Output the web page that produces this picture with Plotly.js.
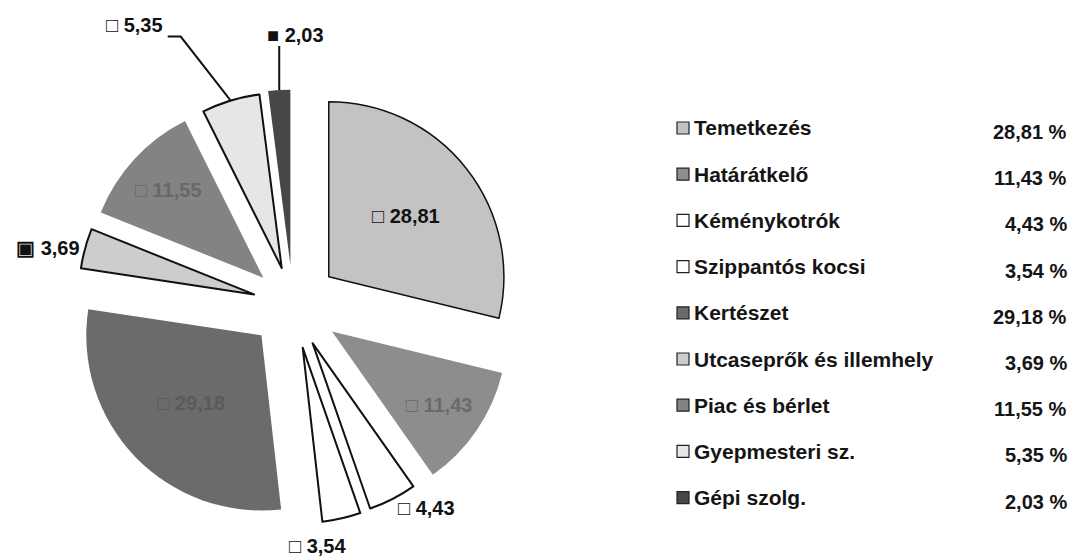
<!DOCTYPE html>
<html>
<head>
<meta charset="utf-8">
<script src="https://cdn.plot.ly/plotly-3.0.1.min.js"></script>
<style>html,body{margin:0;padding:0;background:#fff;}#chart{width:1085px;height:560px;}</style>
</head>
<body>
<div id="chart"></div>
<script>
const categories = ["Temetkezés","Határátkelő","Kéménykotrók","Szippantós kocsi","Kertészet","Utcaseprők és illemhely","Piac és bérlet","Gyepmesteri sz.","Gépi szolg."];
const values = [28.81, 11.43, 4.43, 3.54, 29.18, 3.69, 11.55, 5.35, 2.03];
const sliceColors = ["#c3c3c3","#8d8d8d","#ffffff","#ffffff","#6b6b6b","#cdcdcd","#838383","#e6e6e6","#474747"];
const outlineWidths = [1.5,0,2,2,0,2,0,2,0];
const pulls = [0.26,0.27,0.245,0.25,0.25,0.23,0.23,0.22,0.23];
// 'inside' / 'outside' are drawn by the pie itself; 'leader' labels get a callout
const labelModes = ["inside","inside","outside","leader","inside","outside","inside","leader","leader"];
const labelColors = ["#111111","#6a6a6a","#111111","#111111","#5a5a5a","#111111","#686868","#111111","#111111"];
const labelMarks = ["□","□","□","□","□","▣","□","□","■"];
// callout styling: offset of the label (px) and optional elbow of the leader line
const calloutStyle = {
  3: {dx: -24, dy: 28, anchor: 'center', line: null},
  7: {dx: -66, dy: -76, anchor: 'right', line: [[-50,-64],[-63,-64]]},
  8: {dx: -14, dy: -55, anchor: 'left', line: [[0,-44]]}
};

const W = 1085, H = 560;
const FONT = 'Liberation Sans, Arial, sans-serif';
const domX = [0.065, 0.475], domY = [0.058, 0.8528];

const fmt = v => v.toFixed(2).replace('.', ',');
const sliceText = values.map((v,i) => labelMarks[i] + ' ' + fmt(v));
const textPos = labelModes.map(m => m === 'leader' ? 'none' : m);

const trace = {
  type: 'pie',
  labels: categories,
  values: values,
  sort: false,
  direction: 'clockwise',
  rotation: 0,
  pull: pulls,
  text: sliceText,
  textinfo: 'text',
  textposition: textPos,
  insidetextorientation: 'horizontal',
  textfont: {family: FONT, size: 20, color: labelColors, weight: 'bold'},
  marker: {colors: sliceColors, line: {color: '#111111', width: outlineWidths}},
  domain: {x: domX, y: domY},
  showlegend: false,
  hoverinfo: 'label+value'
};

// pie geometry, same rule Plotly uses (radius shrinks by the largest pull)
const boxW = W*(domX[1]-domX[0]), boxH = H*(domY[1]-domY[0]);
const maxPull = Math.max(...pulls);
const R = Math.min(boxW, boxH) / (2 + 2*maxPull);
const CX = W*(domX[0]+domX[1])/2, CY = H*(1-(domY[0]+domY[1])/2);
const total = values.reduce((a,b)=>a+b,0);
const px2x = p => p/W, px2y = p => 1 - p/H;

const annotations = [];
const shapes = [];
let cum = 0;
values.forEach((v,i) => {
  const th = 2*Math.PI*(cum + v/2)/total;
  cum += v;
  if (labelModes[i] !== 'leader') return;
  const rr = R*(1+pulls[i]);
  const tx = CX + rr*Math.sin(th), ty = CY - rr*Math.cos(th);
  const st = calloutStyle[i];
  if (st.line) {
    let path = 'M ' + px2x(tx) + ' ' + px2y(ty);
    st.line.forEach(p => { path += ' L ' + px2x(tx+p[0]) + ' ' + px2y(ty+p[1]); });
    shapes.push({type:'path', xref:'paper', yref:'paper', path: path, line:{color:'#111', width:2}});
  }
  annotations.push({xref:'paper', yref:'paper', x: px2x(tx+st.dx), y: px2y(ty+st.dy),
    xanchor: st.anchor, yanchor:'middle', showarrow:false, text: sliceText[i],
    font:{family:FONT, size:20, color:'#111', weight:'bold'}});
});

categories.forEach((c,i) => {
  const yName = 128 + 46.2*i;
  const yPct = yName + 4;
  shapes.push({type:'rect', xref:'paper', yref:'paper',
    x0: 677/W, x1: 689/W, y0: 1-(yName+6)/H, y1: 1-(yName-6)/H,
    fillcolor: sliceColors[i], line:{color:'#222', width:1.2}});
  annotations.push({xref:'paper', yref:'paper', x: 692/W, y: 1-yName/H, xanchor:'left', yanchor:'middle',
    text: c, showarrow:false, font:{family:FONT, size:21, color:'#151515', weight:'bold'}});
  annotations.push({xref:'paper', yref:'paper', x: 1069/W, y: 1-yPct/H, xanchor:'right', yanchor:'middle',
    text: fmt(values[i]) + ' %', showarrow:false, font:{family:FONT, size:20, color:'#151515', weight:'bold'}});
});

const layout = {
  width: W, height: H,
  margin: {l:0, r:0, t:0, b:0},
  paper_bgcolor: '#ffffff',
  showlegend: false,
  annotations: annotations,
  shapes: shapes
};
Plotly.newPlot('chart', [trace], layout, {displayModeBar:false, staticPlot:true});
</script>
</body>
</html>
